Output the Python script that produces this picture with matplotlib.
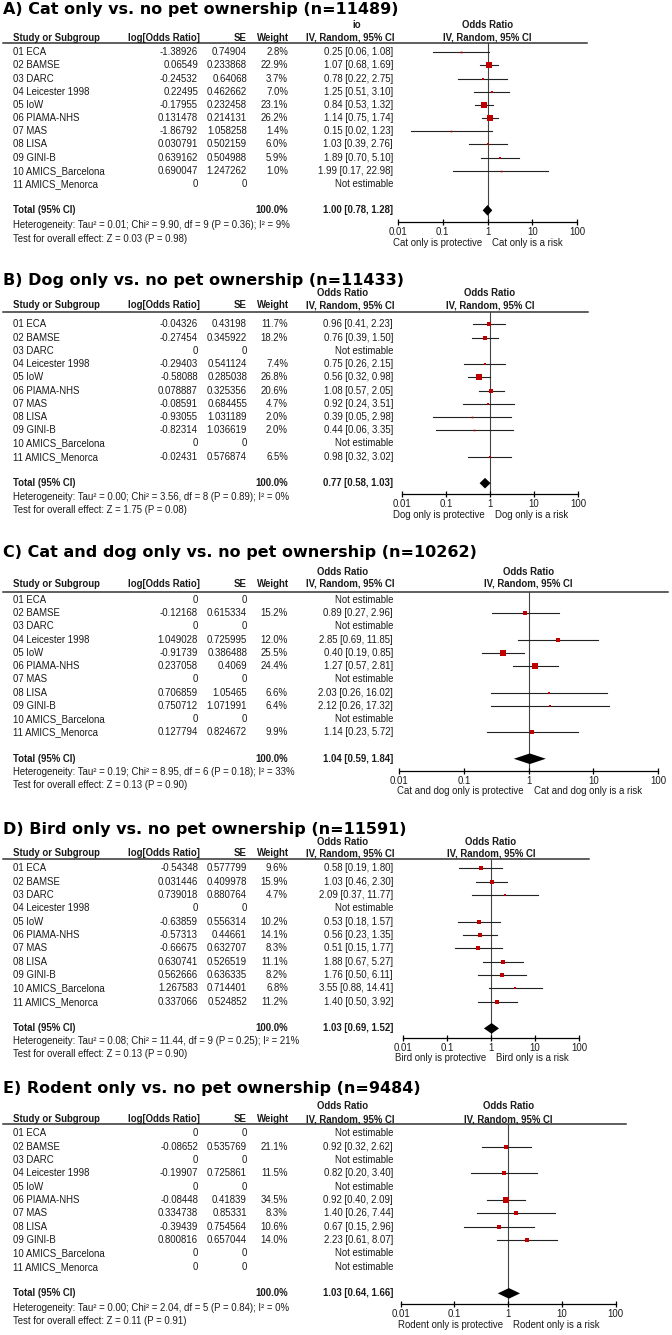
import numpy as np
import matplotlib
matplotlib.use("Agg")
import matplotlib.pyplot as plt

W, H = 672, 1335
plt.rcParams['font.family'] = ['Liberation Sans', 'DejaVu Sans']

studies = ["01 ECA", "02 BAMSE", "03 DARC", "04 Leicester 1998", "05 IoW",
           "06 PIAMA-NHS", "07 MAS", "08 LISA", "09 GINI-B",
           "10 AMICS_Barcelona", "11 AMICS_Menorca"]

# A) cat only
a_log = [-1.38926, 0.06549, -0.24532, 0.22495, -0.17955, 0.131478, -1.86792, 0.030791, 0.639162, 0.690047, 0]
a_se = [0.74904, 0.233868, 0.64068, 0.462662, 0.232458, 0.214131, 1.058258, 0.502159, 0.504988, 1.247262, 0]
a_wt = [2.8, 22.9, 3.7, 7.0, 23.1, 26.2, 1.4, 6.0, 5.9, 1.0, None]
a_or = [0.25, 1.07, 0.78, 1.25, 0.84, 1.14, 0.15, 1.03, 1.89, 1.99, None]
a_lo = [0.06, 0.68, 0.22, 0.51, 0.53, 0.75, 0.02, 0.39, 0.70, 0.17, None]
a_hi = [1.08, 1.69, 2.75, 3.10, 1.32, 1.74, 1.23, 2.76, 5.10, 22.98, None]
a_tot = (1.00, 0.78, 1.28)

# B) dog only
b_log = [-0.04326, -0.27454, 0, -0.29403, -0.58088, 0.078887, -0.08591, -0.93055, -0.82314, 0, -0.02431]
b_se = [0.43198, 0.345922, 0, 0.541124, 0.285038, 0.325356, 0.684455, 1.031189, 1.036619, 0, 0.576874]
b_wt = [11.7, 18.2, None, 7.4, 26.8, 20.6, 4.7, 2.0, 2.0, None, 6.5]
b_or = [0.96, 0.76, None, 0.75, 0.56, 1.08, 0.92, 0.39, 0.44, None, 0.98]
b_lo = [0.41, 0.39, None, 0.26, 0.32, 0.57, 0.24, 0.05, 0.06, None, 0.32]
b_hi = [2.23, 1.50, None, 2.15, 0.98, 2.05, 3.51, 2.98, 3.35, None, 3.02]
b_tot = (0.77, 0.58, 1.03)

# C) cat and dog only
c_log = [0, -0.12168, 0, 1.049028, -0.91739, 0.237058, 0, 0.706859, 0.750712, 0, 0.127794]
c_se = [0, 0.615334, 0, 0.725995, 0.386488, 0.4069, 0, 1.05465, 1.071991, 0, 0.824672]
c_wt = [None, 15.2, None, 12.0, 25.5, 24.4, None, 6.6, 6.4, None, 9.9]
c_or = [None, 0.89, None, 2.85, 0.40, 1.27, None, 2.03, 2.12, None, 1.14]
c_lo = [None, 0.27, None, 0.69, 0.19, 0.57, None, 0.26, 0.26, None, 0.23]
c_hi = [None, 2.96, None, 11.85, 0.85, 2.81, None, 16.02, 17.32, None, 5.72]
c_tot = (1.04, 0.59, 1.84)

# D) bird only
d_log = [-0.54348, 0.031446, 0.739018, 0, -0.63859, -0.57313, -0.66675, 0.630741, 0.562666, 1.267583, 0.337066]
d_se = [0.577799, 0.409978, 0.880764, 0, 0.556314, 0.44661, 0.632707, 0.526519, 0.636335, 0.714401, 0.524852]
d_wt = [9.6, 15.9, 4.7, None, 10.2, 14.1, 8.3, 11.1, 8.2, 6.8, 11.2]
d_or = [0.58, 1.03, 2.09, None, 0.53, 0.56, 0.51, 1.88, 1.76, 3.55, 1.40]
d_lo = [0.19, 0.46, 0.37, None, 0.18, 0.23, 0.15, 0.67, 0.50, 0.88, 0.50]
d_hi = [1.80, 2.30, 11.77, None, 1.57, 1.35, 1.77, 5.27, 6.11, 14.41, 3.92]
d_tot = (1.03, 0.69, 1.52)

# E) rodent only
e_log = [0, -0.08652, 0, -0.19907, 0, -0.08448, 0.334738, -0.39439, 0.800816, 0, 0]
e_se = [0, 0.535769, 0, 0.725861, 0, 0.41839, 0.85331, 0.754564, 0.657044, 0, 0]
e_wt = [None, 21.1, None, 11.5, None, 34.5, 8.3, 10.6, 14.0, None, None]
e_or = [None, 0.92, None, 0.82, None, 0.92, 1.40, 0.67, 2.23, None, None]
e_lo = [None, 0.32, None, 0.20, None, 0.40, 0.26, 0.15, 0.61, None, None]
e_hi = [None, 2.62, None, 3.40, None, 2.09, 7.44, 2.96, 8.07, None, None]
e_tot = (1.03, 0.64, 1.66)

titles = ["A) Cat only vs. no pet ownership (n=11489)",
          "B) Dog only vs. no pet ownership (n=11433)",
          "C) Cat and dog only vs. no pet ownership (n=10262)",
          "D) Bird only vs. no pet ownership (n=11591)",
          "E) Rodent only vs. no pet ownership (n=9484)"]
hetero = ["Heterogeneity: Tau\u00b2 = 0.01; Chi\u00b2 = 9.90, df = 9 (P = 0.36); I\u00b2 = 9%",
          "Heterogeneity: Tau\u00b2 = 0.00; Chi\u00b2 = 3.56, df = 8 (P = 0.89); I\u00b2 = 0%",
          "Heterogeneity: Tau\u00b2 = 0.19; Chi\u00b2 = 8.95, df = 6 (P = 0.18); I\u00b2 = 33%",
          "Heterogeneity: Tau\u00b2 = 0.08; Chi\u00b2 = 11.44, df = 9 (P = 0.25); I\u00b2 = 21%",
          "Heterogeneity: Tau\u00b2 = 0.00; Chi\u00b2 = 2.04, df = 5 (P = 0.84); I\u00b2 = 0%"]
overall = ["Test for overall effect: Z = 0.03 (P = 0.98)",
           "Test for overall effect: Z = 1.75 (P = 0.08)",
           "Test for overall effect: Z = 0.13 (P = 0.90)",
           "Test for overall effect: Z = 0.13 (P = 0.90)",
           "Test for overall effect: Z = 0.11 (P = 0.91)"]
exposures = ["Cat only", "Dog only", "Cat and dog only", "Bird only", "Rodent only"]
or_header1 = ["io", "Odds Ratio", "Odds Ratio", "Odds Ratio", "Odds Ratio"]
ticks = [0.01, 0.1, 1, 10, 100]
tick_labels = ["0.01", "0.1", "1", "10", "100"]

# layout of each panel in pixels
layout = [
    dict(title=9.5, h1=25, h2=38, hline=43, row0=52.3, step=13.17, het=225, test=238.7, axis=222, x0=398, x1=577),
    dict(title=281, h1=293.5, h2=305.5, hline=311.7, row0=324.3, step=13.24, het=496.7, test=510, axis=494, x0=402, x1=578),
    dict(title=552, h1=571.7, h2=584, hline=591.7, row0=600, step=13.23, het=772, test=785, axis=770.7, x0=399, x1=658.3),
    dict(title=829.5, h1=842, h2=853.5, hline=859.3, row0=868.3, step=13.34, het=1041, test=1054.3, axis=1037.5, x0=403, x1=579),
    dict(title=1089, h1=1106, h2=1119, hline=1124.3, row0=1133.3, step=13.34, het=1307.7, test=1320.7, axis=1304, x0=400.7, x1=615.7),
]

panels = [
    (a_log, a_se, a_wt, a_or, a_lo, a_hi, a_tot),
    (b_log, b_se, b_wt, b_or, b_lo, b_hi, b_tot),
    (c_log, c_se, c_wt, c_or, c_lo, c_hi, c_tot),
    (d_log, d_se, d_wt, d_or, d_lo, d_hi, d_tot),
    (e_log, e_se, e_wt, e_or, e_lo, e_hi, e_tot),
]

FS = 6.9
TXT = '#1a1a1a'
RED = '#c00000'

# column right edges (pixels)
X_STUDY = 13
X_LOG = 198
X_SE = 247
X_WT = 288
X_CI = 393
X_H1 = 343


def fmt_num(v):
    return "0" if v == 0 else str(v)


fig = plt.figure(figsize=(W / 100, H / 100), dpi=100)
page = fig.add_axes([0, 0, 1, 1])
page.set_xlim(0, W)
page.set_ylim(H, 0)
page.axis('off')

for k, (g, data) in enumerate(zip(layout, panels)):
    logs, ses, wts, ors, los, his, tot = data
    xmid = (g['x0'] + g['x1']) / 2

    page.text(3, g['title'], titles[k], fontsize=11.5, fontweight='bold',
              family='DejaVu Sans', va='center', ha='left', color='black')

    # headers
    hx = 357 if k == 0 else X_H1
    page.text(hx, g['h1'], or_header1[k], fontsize=FS, fontweight='bold', ha='center', va='center', color=TXT)
    page.text(xmid, g['h1'], "Odds Ratio", fontsize=FS, fontweight='bold', ha='center', va='center', color=TXT)
    page.text(X_STUDY, g['h2'], "Study or Subgroup", fontsize=FS, fontweight='bold', ha='left', va='center', color=TXT)
    page.text(X_LOG + 2, g['h2'], "log[Odds Ratio]", fontsize=FS, fontweight='bold', ha='right', va='center', color=TXT)
    page.text(X_SE, g['h2'], "SE", fontsize=FS, fontweight='bold', ha='right', va='center', color=TXT)
    page.text(X_WT + 1, g['h2'], "Weight", fontsize=FS, fontweight='bold', ha='right', va='center', color=TXT)
    page.text(X_CI + 2, g['h2'], "IV, Random, 95% CI", fontsize=FS, fontweight='bold', ha='right', va='center', color=TXT)
    page.text(xmid, g['h2'], "IV, Random, 95% CI", fontsize=FS, fontweight='bold', ha='center', va='center', color=TXT)
    page.plot([3, g['x1'] + 10], [g['hline'], g['hline']], color='#333333', lw=1.1)

    # forest axes
    fax = fig.add_axes([g['x0'] / W, 1 - g['axis'] / H, (g['x1'] - g['x0']) / W, (g['axis'] - g['hline']) / H])
    fax.set_xscale('log')
    fax.set_xlim(0.01, 100)
    fax.set_ylim(g['axis'], g['hline'])
    fax.patch.set_alpha(0)
    for s in ['top', 'right', 'left']:
        fax.spines[s].set_visible(False)
    fax.spines['bottom'].set_linewidth(0.9)
    fax.set_yticks([])
    fax.set_xticks(ticks)
    fax.set_xticklabels(tick_labels)
    fax.minorticks_off()
    fax.tick_params(axis='x', direction='inout', length=5, width=0.9, pad=1.2, labelsize=FS, labelcolor=TXT)
    fax.axvline(1, color='#444444', lw=0.8, zorder=1)

    for i, name in enumerate(studies):
        y = g['row0'] + i * g['step']
        page.text(X_STUDY, y, name, fontsize=FS, ha='left', va='center', color=TXT)
        page.text(X_LOG, y, fmt_num(logs[i]), fontsize=FS, ha='right', va='center', color=TXT)
        page.text(X_SE, y, fmt_num(ses[i]), fontsize=FS, ha='right', va='center', color=TXT)
        if wts[i] is None:
            page.text(X_CI, y, "Not estimable", fontsize=FS, ha='right', va='center', color=TXT)
            continue
        page.text(X_WT, y, f"{wts[i]:.1f}%", fontsize=FS, ha='right', va='center', color=TXT)
        page.text(X_CI, y, f"{ors[i]:.2f} [{los[i]:.2f}, {his[i]:.2f}]", fontsize=FS,
                  ha='right', va='center', color=TXT)
        fax.plot([los[i], his[i]], [y, y], color='#222222', lw=0.8, zorder=2)
        ms = max(1.6, np.sqrt(wts[i]) * 1.05) * 0.72
        fax.plot([ors[i]], [y], marker='s', ms=ms, color=RED, mec=RED, mew=0, zorder=3)

    # total row
    yt = g['row0'] + 12 * g['step']
    page.text(X_STUDY, yt, "Total (95% CI)", fontsize=FS, fontweight='bold', ha='left', va='center', color=TXT)
    page.text(X_WT, yt, "100.0%", fontsize=FS, fontweight='bold', ha='right', va='center', color=TXT)
    page.text(X_CI, yt, f"{tot[0]:.2f} [{tot[1]:.2f}, {tot[2]:.2f}]", fontsize=FS, fontweight='bold',
              ha='right', va='center', color=TXT)
    fax.fill([tot[1], tot[0], tot[2], tot[0]], [yt, yt - 5.3, yt, yt + 5.3], color='black', lw=0, zorder=3)

    page.text(X_STUDY, g['het'], hetero[k], fontsize=FS, ha='left', va='center', color=TXT)
    page.text(X_STUDY, g['test'], overall[k], fontsize=FS, ha='left', va='center', color=TXT)

    fy = g['axis'] + 20.5
    page.text(xmid - 5, fy, f"{exposures[k]} is protective", fontsize=FS, ha='right', va='center', color=TXT)
    page.text(xmid + 5, fy, f"{exposures[k]} is a risk", fontsize=FS, ha='left', va='center', color=TXT)

fig.savefig("out.png", dpi=100)
